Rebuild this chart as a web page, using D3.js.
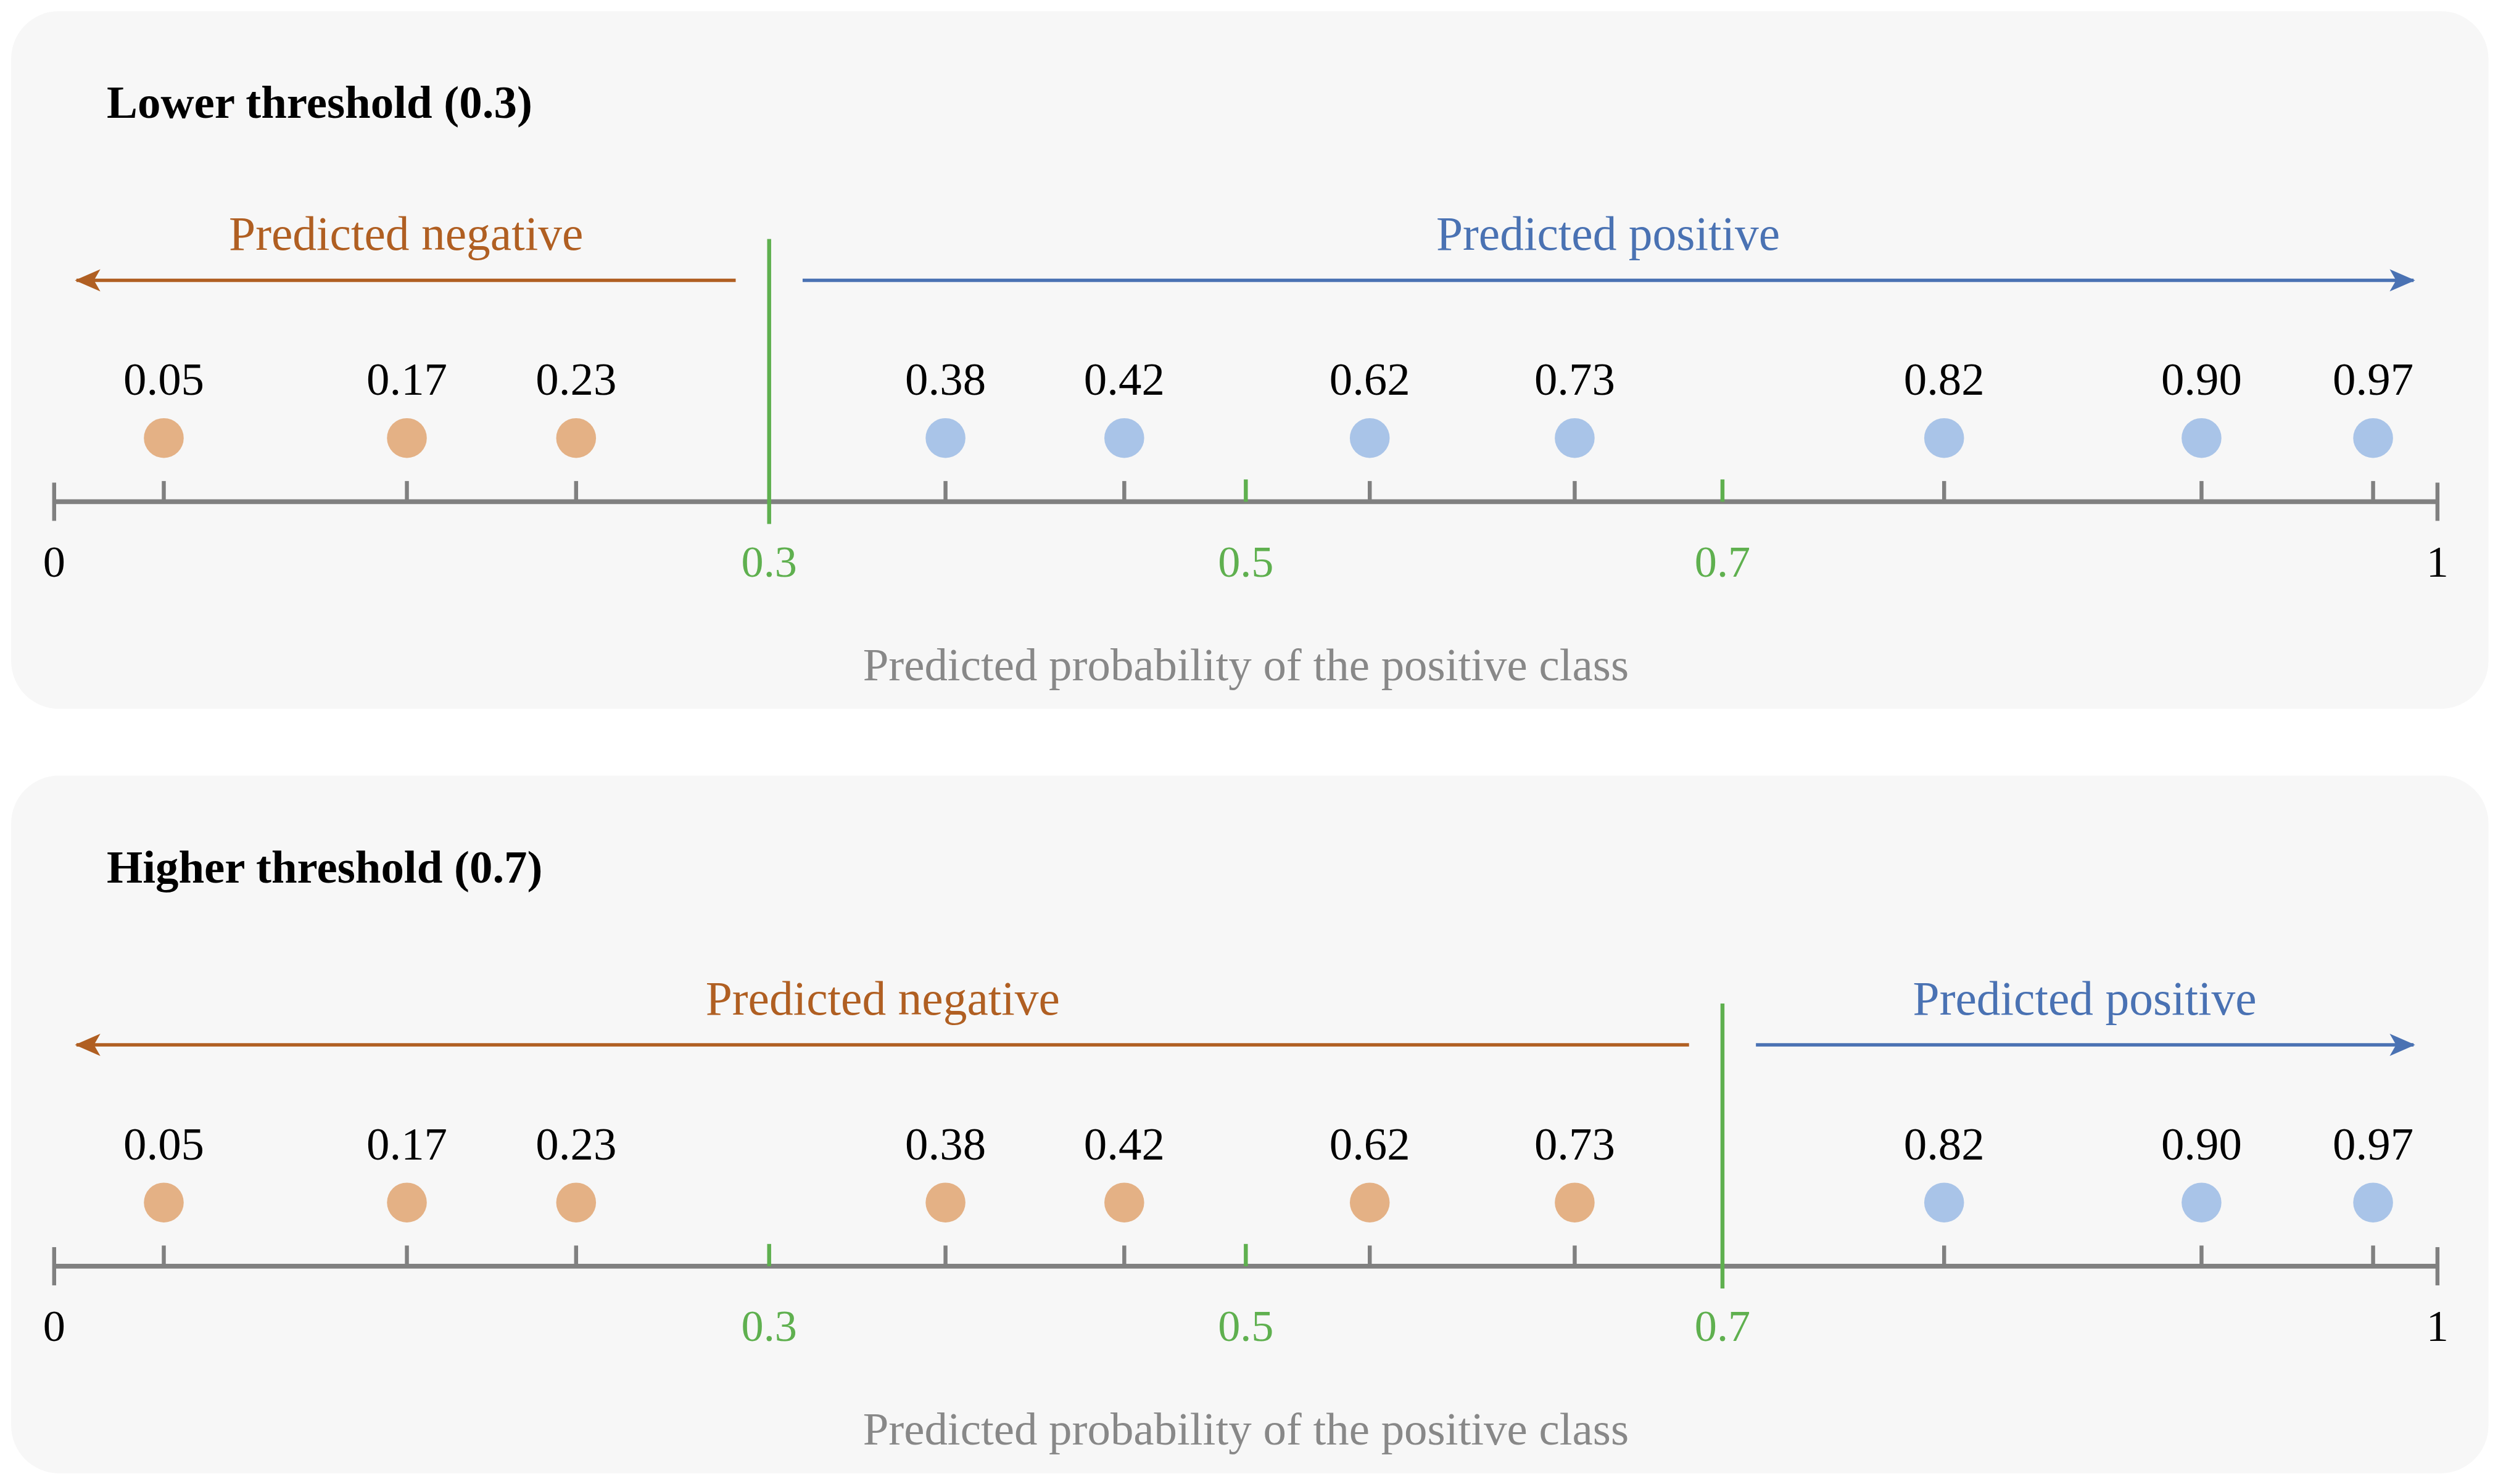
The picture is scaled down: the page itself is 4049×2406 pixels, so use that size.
<!DOCTYPE html>
<html><head><meta charset="utf-8">
<script src="https://cdn.jsdelivr.net/npm/d3@7"></script>
<style>html,body{margin:0;padding:0;background:#fff}svg{display:block}</style>
</head><body>
<script>
// Data
const pointLabels = ["0.05","0.17","0.23","0.38","0.42","0.62","0.73","0.82","0.90","0.97"];
const pointPositions = [0.046,0.148,0.219,0.374,0.449,0.552,0.638,0.793,0.901,0.973];
const thresholds = [0.3, 0.7];
const panelTitles = ["Lower threshold (0.3)","Higher threshold (0.7)"];
const refTicks = [0.3, 0.5, 0.7];
const endTicks = [0, 1];

const W=1568, H=931.7;
const svg=d3.select("body").append("svg").attr("width",4049).attr("height",2406).attr("viewBox",`0 0 ${W} ${H}`);
const font="'Liberation Serif', 'DejaVu Serif', serif";
const x=d3.scaleLinear().domain([0,1]).range([34,1530]);
const NEG="#b05f22", POS="#4a72b3", GREEN="#5fb04f", GREY="#808080";
const defs=svg.append("defs");
[["neg",NEG],["pos",POS]].forEach(([id,c])=>{
  defs.append("marker").attr("id","m"+id).attr("viewBox","0 0 16 14").attr("refX",15).attr("refY",7)
   .attr("markerWidth",16).attr("markerHeight",14).attr("orient","auto").attr("markerUnits","userSpaceOnUse")
   .append("path").attr("d","M0,0 L16,7 L0,14 L4,7 Z").attr("fill",c);
});

thresholds.forEach((t,i)=>{
  const g=svg.append("g").attr("transform",`translate(0,${i*480})`);
  g.append("rect").attr("x",7).attr("y",7).attr("width",1555).attr("height",438).attr("rx",30).attr("fill","#f7f7f7");
  g.append("text").attr("x",67).attr("y",74).attr("font-family",font).attr("font-weight","bold").attr("font-size",29).attr("fill","#000").text(panelTitles[i]);
  const tx=x(t);
  const negStart=tx-21, posStart=tx+21, negEnd=x(0)+14, posEnd=x(1)-15;
  g.append("line").attr("x1",negStart).attr("x2",negEnd).attr("y1",176).attr("y2",176).attr("stroke",NEG).attr("stroke-width",2.2).attr("marker-end","url(#mneg)");
  g.append("line").attr("x1",posStart).attr("x2",posEnd).attr("y1",176).attr("y2",176).attr("stroke",POS).attr("stroke-width",2.2).attr("marker-end","url(#mpos)");
  g.append("text").attr("x",(negStart+negEnd)/2).attr("y",157).attr("text-anchor","middle").attr("font-family",font).attr("font-size",30).attr("fill",NEG).text("Predicted negative");
  g.append("text").attr("x",(posStart+posEnd)/2).attr("y",157).attr("text-anchor","middle").attr("font-family",font).attr("font-size",30).attr("fill",POS).text("Predicted positive");
  g.append("line").attr("x1",x(0)).attr("x2",x(1)).attr("y1",315).attr("y2",315).attr("stroke",GREY).attr("stroke-width",3);
  g.selectAll(".et").data(endTicks).join("line").attr("x1",d=>x(d)).attr("x2",d=>x(d)).attr("y1",303).attr("y2",327).attr("stroke",GREY).attr("stroke-width",2.5);
  g.selectAll(".pt").data(pointPositions).join("line").attr("x1",d=>x(d)).attr("x2",d=>x(d)).attr("y1",302).attr("y2",315).attr("stroke",GREY).attr("stroke-width",2.5);
  g.selectAll(".rt").data(refTicks.filter(d=>d!==t)).join("line").attr("x1",d=>x(d)).attr("x2",d=>x(d)).attr("y1",301).attr("y2",315).attr("stroke",GREEN).attr("stroke-width",2.5);
  g.append("line").attr("x1",tx).attr("x2",tx).attr("y1",150).attr("y2",329).attr("stroke",GREEN).attr("stroke-width",2.5);
  g.selectAll(".el").data(endTicks).join("text").attr("x",d=>x(d)).attr("y",362).attr("text-anchor","middle").attr("font-family",font).attr("font-size",28).attr("fill","#000").text(d=>d);
  g.selectAll(".rl").data(refTicks).join("text").attr("x",d=>x(d)).attr("y",362).attr("text-anchor","middle").attr("font-family",font).attr("font-size",28).attr("fill",GREEN).text(d=>d);
  g.selectAll(".dot").data(pointPositions).join("circle").attr("cx",d=>x(d)).attr("cy",275).attr("r",12.5)
    .attr("fill",d=>d>=t?"#a9c4e8":"#e4b185");
  g.selectAll(".vl").data(pointPositions).join("text").attr("x",d=>x(d)).attr("y",248).attr("text-anchor","middle").attr("font-family",font).attr("font-size",29).attr("fill","#000").text((d,j)=>pointLabels[j]);
  g.append("text").attr("x",782).attr("y",427).attr("text-anchor","middle").attr("font-family",font).attr("font-size",29).attr("fill","#888").text("Predicted probability of  the positive class");
});
</script>
</body></html>
